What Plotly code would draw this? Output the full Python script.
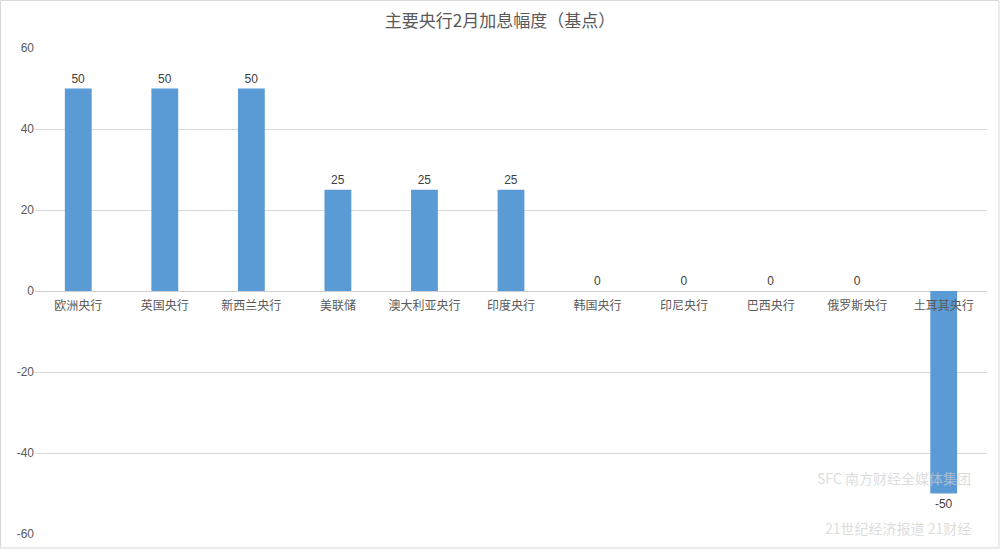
import plotly.graph_objects as go

categories = ["欧洲央行", "英国央行", "新西兰央行", "美联储", "澳大利亚央行", "印度央行",
              "韩国央行", "印尼央行", "巴西央行", "俄罗斯央行", "土耳其央行"]
values = [50, 50, 50, 25, 25, 25, 0, 0, 0, 0, -50]
y_ticks = [-60, -40, -20, 0, 20, 40, 60]
y_tick_labels = ["-60", "-40", "-20", "0", "20", "40", "60"]

FONT = "Noto Sans CJK SC, Noto Sans, sans-serif"

fig = go.Figure()
fig.add_trace(go.Bar(
    x=categories, y=values,
    marker=dict(color="#5b9bd5", line=dict(width=0)),
    text=[str(v) for v in values],
    textposition="outside",
    textfont=dict(size=12, color="#404040", family="Liberation Sans, Arial, sans-serif"),
    cliponaxis=False,
))

fig.update_layout(
    width=1000, height=549,
    margin=dict(l=35, r=13, t=48, b=15, autoexpand=False),
    paper_bgcolor="white", plot_bgcolor="white",
    bargap=0.69,
    showlegend=False,
    title=dict(text="主要央行2月加息幅度（基点）", x=0.5, xanchor="center", y=0.962, yanchor="middle",
               font=dict(size=17, color="#595959", family=FONT)),
    xaxis=dict(
        anchor="free", position=0.5, automargin=False,
        showline=False, showgrid=False, zeroline=False,
        ticks="", ticklabelstandoff=6,
        tickfont=dict(size=12, color="#595959", family=FONT),
        layer="above traces",
    ),
    yaxis=dict(
        range=[-60, 60], tickvals=y_ticks, ticktext=y_tick_labels, automargin=False,
        showgrid=True, gridcolor="#d9d9d9", gridwidth=1,
        zeroline=True, zerolinecolor="#d0d0d0", zerolinewidth=1,
        showline=False, ticks="",
        tickfont=dict(size=12, color="#595959", family="Liberation Sans, Arial, sans-serif"),
    ),
)

# outer chart border
fig.add_shape(type="rect", xref="paper", yref="paper",
              x0=-34.5/952, x1=1 + 12/952, y0=-14/486, y1=1 + 47.5/486,
              line=dict(color="#d9d9d9", width=1), fillcolor="rgba(0,0,0,0)", layer="below")

# faint watermark
fig.add_annotation(xref="paper", yref="paper", x=0.985, y=0.115, xanchor="right", yanchor="middle",
                   text="SFC 南方财经全媒体集团", showarrow=False,
                   font=dict(size=14, color="rgba(205,205,205,0.7)", family=FONT))
fig.add_annotation(xref="paper", yref="paper", x=0.985, y=0.012, xanchor="right", yanchor="middle",
                   text="21世纪经济报道 21财经", showarrow=False,
                   font=dict(size=14, color="rgba(205,205,205,0.7)", family=FONT))

fig.write_html("out.html", config={"displayModeBar": False},
               post_script="document.body.style.margin='0';")
